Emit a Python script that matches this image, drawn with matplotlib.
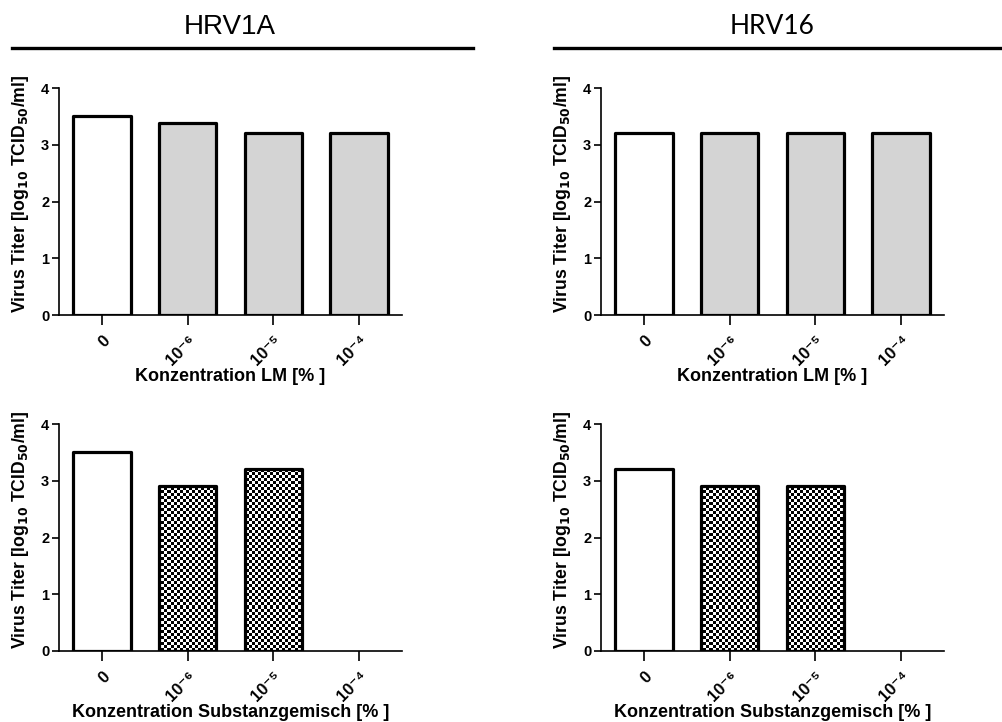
import numpy as np
import matplotlib
matplotlib.use("Agg")
import matplotlib.pyplot as plt
from matplotlib.lines import Line2D

plt.rcParams.update({"font.family": ["Liberation Sans", "DejaVu Sans"], "font.weight": "bold",
                     "mathtext.default": "bf"})

VIRUSES = ["HRV1A", "HRV16"]
CATS = ["0", "10\u207b\u2076", "10\u207b\u2075", "10\u207b\u2074"]
XLABELS = ["Konzentration LM [% ]", "Konzentration Substanzgemisch [% ]"]
YLABEL = "Virus Titer [log$_{10}$ TCID$_{50}$/ml]"

# titers, rows: LM / Substanzgemisch, columns: HRV1A / HRV16
LM_HRV1A = [3.5, 3.38, 3.2, 3.2]
LM_HRV16 = [3.2, 3.2, 3.2, 3.2]
MIX_HRV1A = [3.5, 2.9, 3.2, 0.0]
MIX_HRV16 = [3.2, 2.9, 2.9, 0.0]
DATA = [[LM_HRV1A, LM_HRV16], [MIX_HRV1A, MIX_HRV16]]

fig = plt.figure(figsize=(10.02, 7.22), dpi=100)
W, H = 1002, 722

lefts = [59, 601]
bottoms = [407, 71]
for r in range(2):
    for c in range(2):
        ax = fig.add_axes([lefts[c] / W, bottoms[r] / H, 343 / W, 227 / H])
        vals = DATA[r][c]
        x = np.arange(len(CATS))
        if r == 0:
            faces = ["white"] + ["#d4d4d4"] * 3
        else:
            faces = ["white"] + ["none"] * 3
        lws = [2.3 if v > 0 else 0 for v in vals]
        bars = ax.bar(x, vals, width=0.67, color=faces, edgecolor="black", linewidth=lws,
                      joinstyle="round", zorder=3)
        if r == 1:
            # checkerboard fill clipped to each bar
            ny, nx = 227 // 3, 343 // 3
            yy, xx = np.indices((ny, nx))
            board = (yy + xx) % 2
            for b, v in zip(bars[1:], vals[1:]):
                if v <= 0:
                    continue
                im = ax.imshow(board, cmap="gray", extent=(-0.5, 3.5, 0, 4), aspect="auto",
                               interpolation="nearest", zorder=2)
                im.set_clip_path(b)
        ax.set_xlim(-0.5, 3.5)
        ax.set_ylim(0, 4)
        ax.set_yticks([0, 1, 2, 3, 4])
        ax.set_xticks(x)
        ax.set_xticklabels(CATS, rotation=45, ha="right", va="top", rotation_mode="anchor",
                           fontsize=12, fontweight="bold")
        ax.tick_params(axis="y", labelsize=10.5, width=1.2, length=5, pad=2)
        ax.tick_params(axis="x", width=1.2, length=7, pad=6)
        for s in ["top", "right"]:
            ax.spines[s].set_visible(False)
        for s in ["left", "bottom"]:
            ax.spines[s].set_linewidth(1.2)
        ax.set_xlabel(XLABELS[r], fontsize=13, fontweight="bold", va="center")
        ax.xaxis.set_label_coords(0.5, -0.273)
        ax.set_ylabel(YLABEL, fontsize=12.7, fontweight="bold", va="center")
        ax.yaxis.set_label_coords(-0.111, 0.535)

# column headers with rules
fonts = [("Liberation Sans", 20), ("Lato", 19)]
for name, (x0, x1), xc, (fam, fs) in zip(VIRUSES, [(12, 473), (554, 1002)], [230, 772], fonts):
    fig.add_artist(Line2D([x0 / W, x1 / W], [1 - 48 / H, 1 - 48 / H], color="black", lw=2.4))
    fig.text(xc / W, 1 - 27 / H, name, ha="center", va="center", fontsize=fs,
             fontweight="normal", family=fam)

fig.savefig("out.png", dpi=100)
